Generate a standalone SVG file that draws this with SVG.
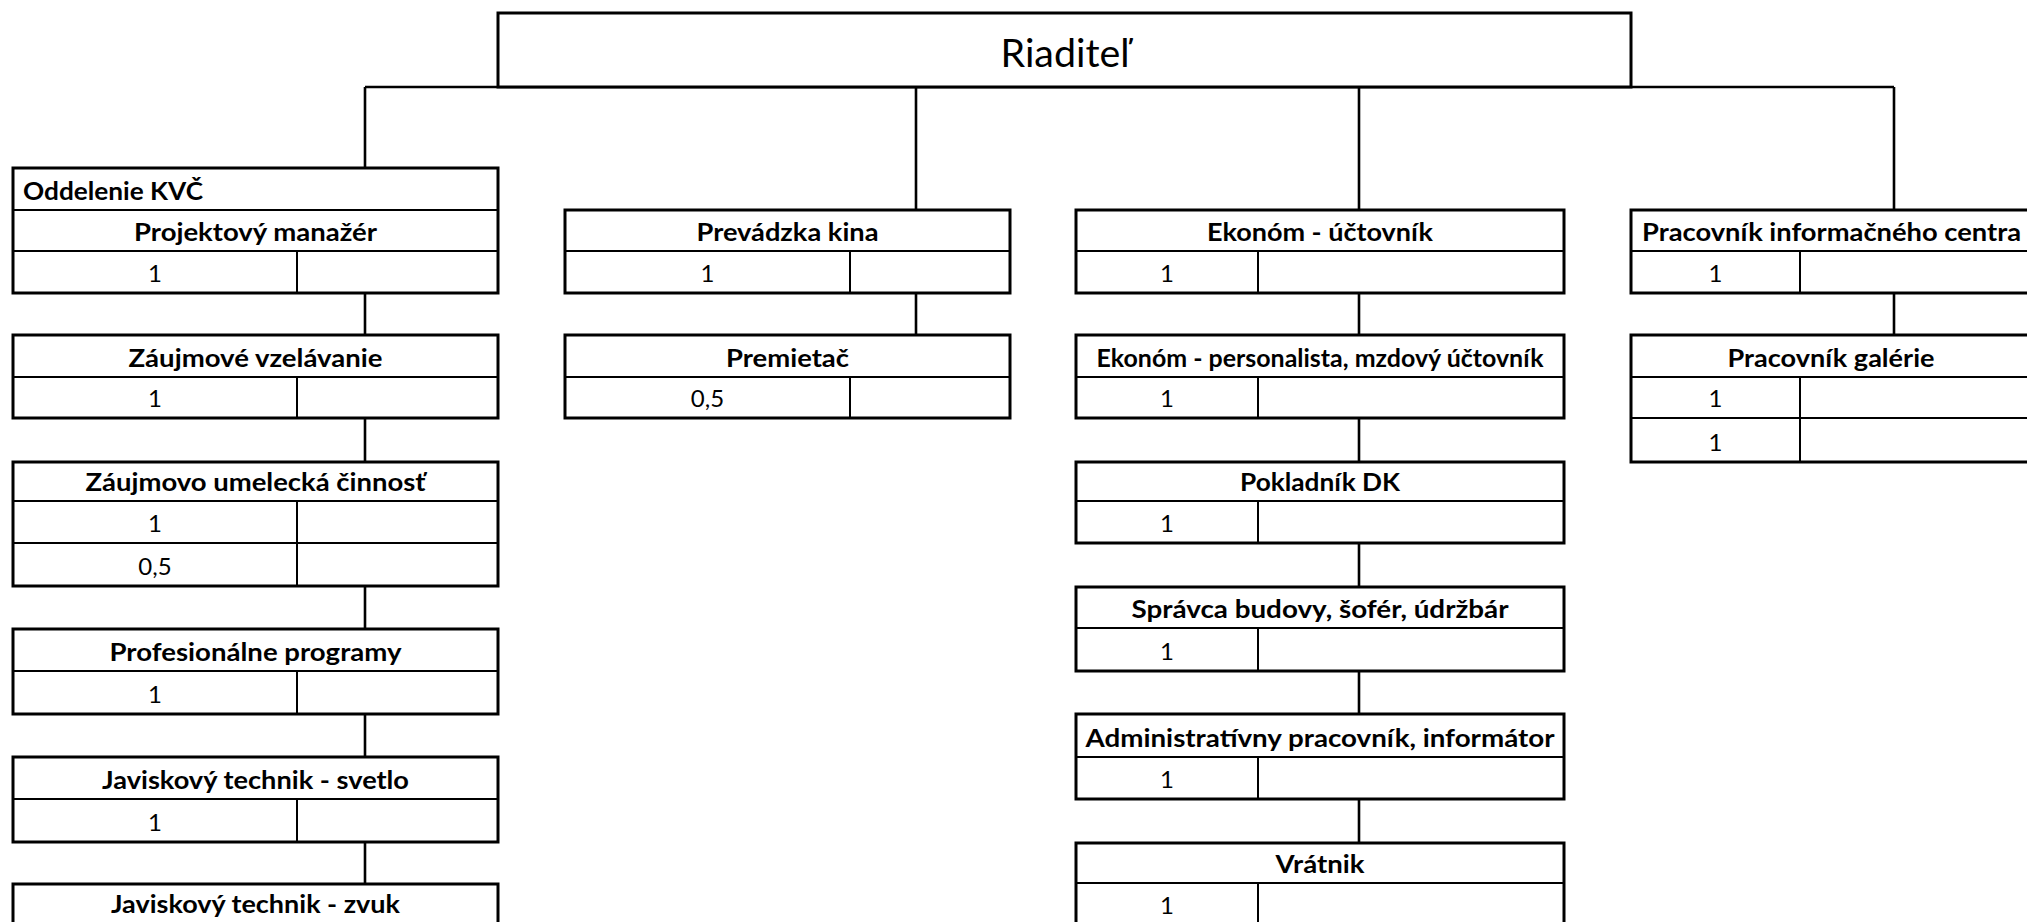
<svg xmlns="http://www.w3.org/2000/svg" width="2027" height="922" viewBox="0 0 2027 922">
<style>
.box{fill:#fff;stroke:#000;stroke-width:3}
.in{stroke:#000;stroke-width:2;fill:none}
.conn{stroke:#000;stroke-width:2.6;fill:none}
.h{font-family:Lato,"Liberation Sans",sans-serif;font-weight:bold;font-size:24px;fill:#000;text-anchor:middle}
.hl{font-family:Lato,"Liberation Sans",sans-serif;font-weight:bold;font-size:24px;fill:#000;text-anchor:start}
.n{font-family:Lato,"Liberation Sans",sans-serif;font-size:24px;fill:#000;text-anchor:middle}
.t{font-family:Lato,"Liberation Sans",sans-serif;font-size:39px;fill:#000;text-anchor:middle}
</style>
<rect width="2027" height="922" fill="#fff"/>
<g id="connectors">
<path class="conn" d="M365 87H1894M365 87V168M916 87V210M1359 87V210M1894 87V210"/>
<path class="conn" d="M365 293V335M365 418V462M365 586V629M365 714V757M365 842V884"/>
<path class="conn" d="M916 293V335"/>
<path class="conn" d="M1359 293V335M1359 418V462M1359 543V587M1359 671V714M1359 799V843"/>
<path class="conn" d="M1894 293V335"/>
</g>
<g id="riaditel">
<rect class="box" x="498" y="13" width="1133" height="74"/>
<text class="t" x="1065" y="67" textLength="129" lengthAdjust="spacingAndGlyphs">Riaditeľ</text>
</g>
<g id="kvc">
<rect class="box" x="13" y="168" width="485" height="125"/>
<path class="in" d="M13 210H498M13 251H498M297 251V293"/>
<text class="hl" x="23" y="199.5" textLength="180" lengthAdjust="spacingAndGlyphs">Oddelenie KVČ</text>
<text class="h" x="255.5" y="240.5" textLength="243" lengthAdjust="spacingAndGlyphs">Projektový manažér</text>
<text class="n" x="155" y="281.5">1</text>
</g>
<g id="zaujmove">
<rect class="box" x="13" y="335" width="485" height="83"/>
<path class="in" d="M13 377H498M297 377V418"/>
<text class="h" x="255.5" y="366.5" textLength="254" lengthAdjust="spacingAndGlyphs">Záujmové vzelávanie</text>
<text class="n" x="155" y="406.5">1</text>
</g>
<g id="umelecka">
<rect class="box" x="13" y="462" width="485" height="124"/>
<path class="in" d="M13 501H498M13 543H498M297 501V586"/>
<text class="h" x="255.5" y="490.5" textLength="340" lengthAdjust="spacingAndGlyphs">Záujmovo umelecká činnosť</text>
<text class="n" x="155" y="531.5">1</text>
<text class="n" x="155" y="574.5">0,5</text>
</g>
<g id="profesionalne">
<rect class="box" x="13" y="629" width="485" height="85"/>
<path class="in" d="M13 671H498M297 671V714"/>
<text class="h" x="255.5" y="660.5" textLength="292" lengthAdjust="spacingAndGlyphs">Profesionálne programy</text>
<text class="n" x="155" y="702.5">1</text>
</g>
<g id="svetlo">
<rect class="box" x="13" y="757" width="485" height="85"/>
<path class="in" d="M13 799H498M297 799V842"/>
<text class="h" x="255.5" y="788.5" textLength="307" lengthAdjust="spacingAndGlyphs">Javiskový technik - svetlo</text>
<text class="n" x="155" y="830.5">1</text>
</g>
<g id="zvuk">
<rect class="box" x="13" y="884" width="485" height="84"/>
<path class="in" d="M13 926H498M297 926V968"/>
<text class="h" x="255.5" y="913" textLength="289" lengthAdjust="spacingAndGlyphs">Javiskový technik - zvuk</text>
</g>
<g id="prevadzka">
<rect class="box" x="565" y="210" width="445" height="83"/>
<path class="in" d="M565 251H1010M850 251V293"/>
<text class="h" x="787.5" y="240.5" textLength="182" lengthAdjust="spacingAndGlyphs">Prevádzka kina</text>
<text class="n" x="707.5" y="281.5">1</text>
</g>
<g id="premietac">
<rect class="box" x="565" y="335" width="445" height="83"/>
<path class="in" d="M565 377H1010M850 377V418"/>
<text class="h" x="787.5" y="366.5" textLength="123" lengthAdjust="spacingAndGlyphs">Premietač</text>
<text class="n" x="707.5" y="406.5">0,5</text>
</g>
<g id="ekonom">
<rect class="box" x="1076" y="210" width="488" height="83"/>
<path class="in" d="M1076 251H1564M1258 251V293"/>
<text class="h" x="1320" y="240.5" textLength="226" lengthAdjust="spacingAndGlyphs">Ekonóm - účtovník</text>
<text class="n" x="1167" y="281.5">1</text>
</g>
<g id="personalista">
<rect class="box" x="1076" y="335" width="488" height="83"/>
<path class="in" d="M1076 377H1564M1258 377V418"/>
<text class="h" x="1320" y="366.5" textLength="447" lengthAdjust="spacingAndGlyphs">Ekonóm - personalista, mzdový účtovník</text>
<text class="n" x="1167" y="406.5">1</text>
</g>
<g id="pokladnik">
<rect class="box" x="1076" y="462" width="488" height="81"/>
<path class="in" d="M1076 501H1564M1258 501V543"/>
<text class="h" x="1320" y="490.5" textLength="160" lengthAdjust="spacingAndGlyphs">Pokladník DK</text>
<text class="n" x="1167" y="531.5">1</text>
</g>
<g id="spravca">
<rect class="box" x="1076" y="587" width="488" height="84"/>
<path class="in" d="M1076 628H1564M1258 628V671"/>
<text class="h" x="1320" y="617.5" textLength="377" lengthAdjust="spacingAndGlyphs">Správca budovy, šofér, údržbár</text>
<text class="n" x="1167" y="659.5">1</text>
</g>
<g id="administrativny">
<rect class="box" x="1076" y="714" width="488" height="85"/>
<path class="in" d="M1076 757H1564M1258 757V799"/>
<text class="h" x="1320" y="746.5" textLength="469" lengthAdjust="spacingAndGlyphs">Administratívny pracovník, informátor</text>
<text class="n" x="1167" y="787.5">1</text>
</g>
<g id="vratnik">
<rect class="box" x="1076" y="843" width="488" height="125"/>
<path class="in" d="M1076 883H1564M1258 883V968"/>
<text class="h" x="1320" y="873" textLength="89" lengthAdjust="spacingAndGlyphs">Vrátnik</text>
<text class="n" x="1167" y="914">1</text>
</g>
<g id="informacne">
<rect class="box" x="1631" y="210" width="400" height="83"/>
<path class="in" d="M1631 251H2031M1800 251V293"/>
<text class="hl" x="1642" y="240.5" textLength="379" lengthAdjust="spacingAndGlyphs">Pracovník informačného centra</text>
<text class="n" x="1715.5" y="281.5">1</text>
</g>
<g id="galerie">
<rect class="box" x="1631" y="335" width="400" height="127"/>
<path class="in" d="M1631 377H2031M1631 418H2031M1800 377V462"/>
<text class="h" x="1831" y="366.5" textLength="207" lengthAdjust="spacingAndGlyphs">Pracovník galérie</text>
<text class="n" x="1715.5" y="406.5">1</text>
<text class="n" x="1715.5" y="450.5">1</text>
</g>
</svg>
